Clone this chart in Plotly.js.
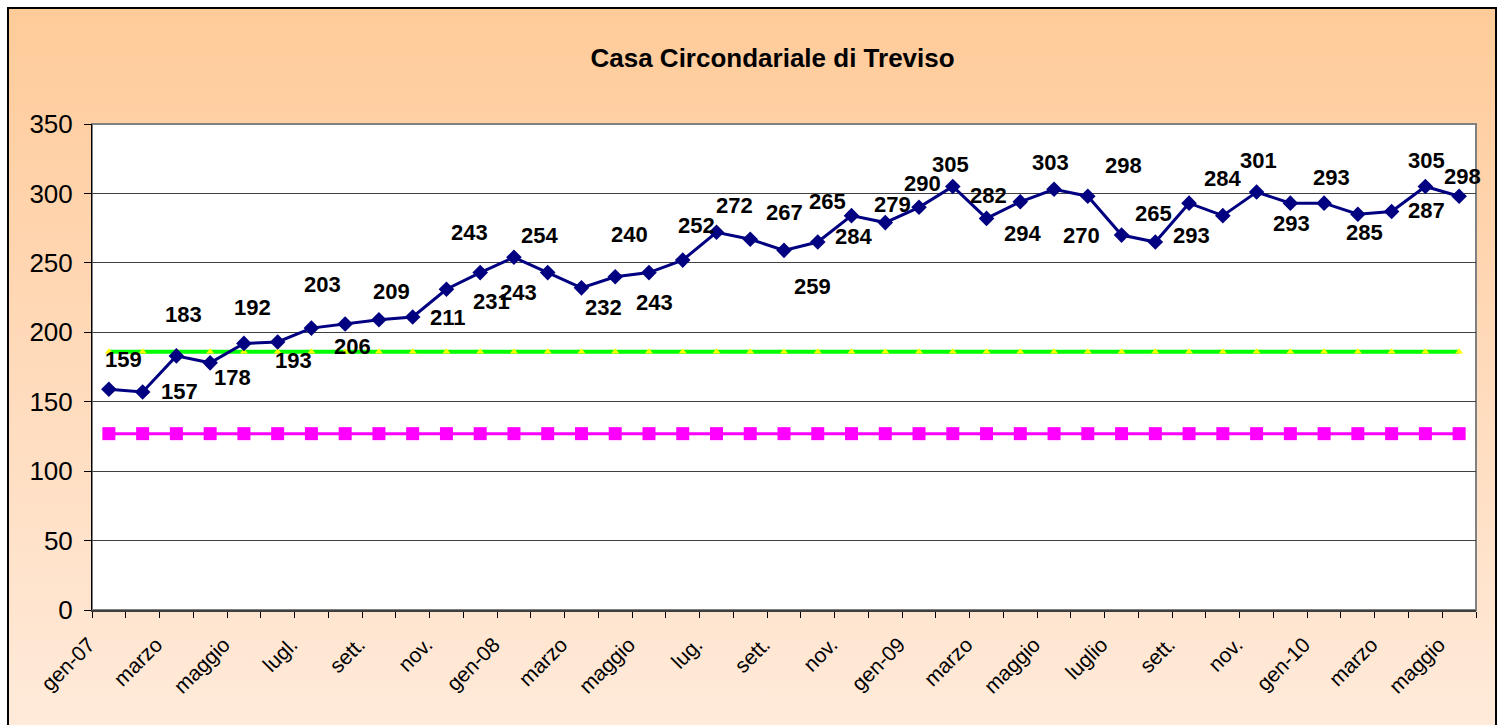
<!DOCTYPE html>
<html>
<head>
<meta charset="utf-8">
<script src="https://cdn.plot.ly/plotly-3.0.1.min.js"></script>
<style>
  body { margin: 0; background: #fff; }
  #frame {
    position: absolute; left: 7px; top: 7px; width: 1486px; height: 730px;
    border: 2px solid #000;
    background: linear-gradient(to bottom, #ffcb99 0%, #ffd9b8 45%, #ffebdb 100%);
  }
  #chart { position: absolute; left: 0; top: 0; width: 1506px; height: 725px; }
</style>
</head>
<body>
<div id="frame"></div>
<div id="chart"></div>
<script>
// monthly presences, gen-07 .. maggio-10
var months = ["gen-07","feb","marzo","apr","maggio","giu","lugl.","ago","sett.","ott","nov.","dic",
  "gen-08","feb","marzo","apr","maggio","giu","lug.","ago","sett.","ott","nov.","dic",
  "gen-09","feb","marzo","apr","maggio","giu","luglio","ago","sett.","ott","nov.","dic",
  "gen-10","feb","marzo","apr","maggio"];
var presenze = [159,157,183,178,192,193,203,206,209,211,231,243,254,243,232,240,243,252,272,267,
  259,265,284,279,290,305,282,294,303,298,270,265,293,284,301,293,293,285,287,305,298];
var capienzaTollerabile = 186;
var capienzaRegolamentare = 127;

// label offsets in px (dx right, dy down), as placed in the original
var labelOffsets = [[15,-30],[37,0],[7,-41],[22,15],[9,-36],[16,18],[11,-44],[7,23],[13,-28],[35,0],
  [45,12],[-11,-40],[26,-22],[-29,20],[22,20],[14,-42],[6,30],[14,-35],[18,-27],[34,-27],
  [28,36],[10,-41],[2,21],[7,-18],[3,-24],[-2,-22],[2,-23],[2,32],[-4,-27],[36,-31],
  [-40,0],[-2,-29],[2,32],[0,-37],[2,-32],[1,20],[7,-26],[7,18],[35,-1],[1,-26],[3,-20]];

var idx = months.map(function (m, i) { return i; });
var tickIdx = idx.filter(function (i) { return i % 2 === 0; });
var tickText = tickIdx.map(function (i) { return months[i]; });
var bounds = [];
for (var b = 0; b <= months.length; b++) bounds.push(b - 0.5);

var data = [
  {
    x: idx, y: idx.map(function () { return capienzaRegolamentare; }),
    type: "scatter", mode: "lines+markers",
    line: { color: "#ff00ff", width: 3 },
    marker: { symbol: "square", size: 13, color: "#ff00ff" },
    hoverinfo: "y"
  },
  {
    x: idx, y: idx.map(function () { return capienzaTollerabile; }),
    type: "scatter", mode: "lines+markers",
    line: { color: "#00ff00", width: 4 },
    marker: { symbol: "triangle-up", size: 7, color: "#ffff00" },
    hoverinfo: "y"
  },
  {
    x: idx, y: presenze,
    type: "scatter", mode: "lines+markers",
    line: { color: "#000080", width: 3 },
    marker: { symbol: "diamond", size: 12, color: "#000080" },
    hoverinfo: "y"
  }
];

var annotations = presenze.map(function (v, i) {
  return {
    x: i, y: v, xref: "x", yref: "y", text: String(v), showarrow: false,
    xshift: labelOffsets[i][0], yshift: -labelOffsets[i][1],
    font: { family: "Liberation Sans, Arial, sans-serif", size: 22, color: "#000", weight: "bold" }
  };
});

var layout = {
  width: 1506, height: 725,
  paper_bgcolor: "rgba(0,0,0,0)",
  plot_bgcolor: "#ffffff",
  margin: { l: 92, r: 30, t: 124, b: 115 },
  showlegend: false,
  font: { family: "Liberation Sans, Arial, sans-serif", color: "#000" },
  title: {
    text: "<b>Casa Circondariale di Treviso</b>",
    font: { size: 26, color: "#000" },
    xref: "container", yref: "container", x: 0.513, y: 0.92, xanchor: "center", yanchor: "middle"
  },
  xaxis: {
    range: [-0.5, months.length - 0.5],
    tickmode: "array", tickvals: tickIdx, ticktext: tickText,
    tickangle: -45, ticks: "", tickfont: { size: 21 },
    ticklabelstandoff: 12, ticklabelshift: -20,
    minor: { tickmode: "array", tickvals: bounds, ticks: "outside", ticklen: 6, tickcolor: "#000", tickwidth: 1, showgrid: false },
    showgrid: false, zeroline: false,
    showline: true, linecolor: "#404040", linewidth: 2, mirror: false
  },
  yaxis: {
    range: [0, 350], dtick: 50,
    ticks: "outside", ticklen: 7, tickcolor: "#000",
    tickfont: { size: 26 }, ticklabelstandoff: 6,
    showgrid: true, gridcolor: "#404040", gridwidth: 1,
    zeroline: false,
    showline: true, linecolor: "#000", linewidth: 1
  },
  shapes: [
    { type: "rect", xref: "paper", yref: "paper", x0: 0, x1: 1, y0: 0, y1: 1,
      line: { color: "#808080", width: 2 }, fillcolor: "rgba(0,0,0,0)", layer: "below" }
  ],
  annotations: annotations
};

Plotly.newPlot("chart", data, layout, { staticPlot: true });
</script>
</body>
</html>
